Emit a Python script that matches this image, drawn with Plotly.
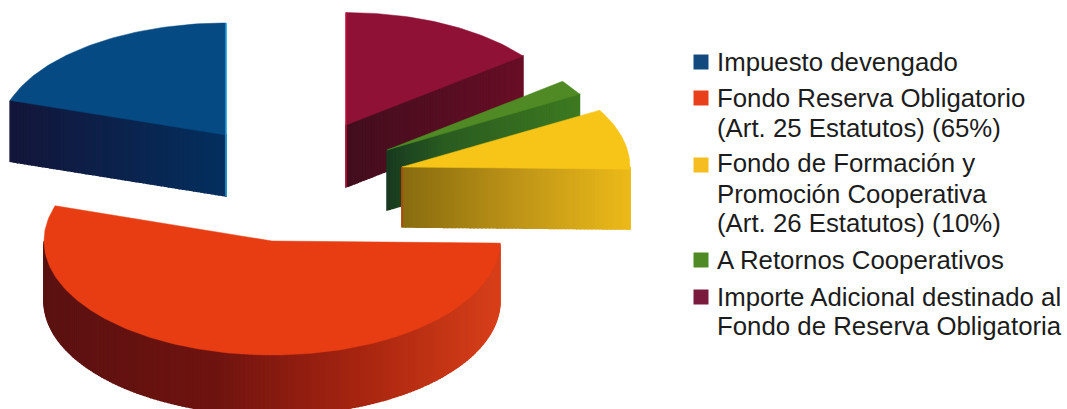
import plotly.graph_objects as go
import numpy as np

legend_lines = [["Impuesto devengado"],
                ["Fondo Reserva Obligatorio", "(Art. 25 Estatutos) (65%)"],
                ["Fondo de Formación y", "Promoción Cooperativa", "(Art. 26 Estatutos) (10%)"],
                ["A Retornos Cooperativos"],
                ["Importe Adicional destinado al", "Fondo de Reserva Obligatoria"]]
shares = [20.0, 54.7, 8.6, 2.2, 14.5]
top_colors = ["#054a82", "#e83c12", "#f6c518", "#4f8a25", "#8f1236"]
swatch_colors = ["#124a7e", "#e8401a", "#f5bd20", "#4f8a25", "#7a1a3c"]

W, H = 1067, 409
# pixel layout of each exploded slice: centre x, centre y, radius x, radius y, thickness
geom = [(226, 135, 227, 112, 61),
        (272, 241, 228, 114, 60),
        (402, 167, 228, 114, 60),
        (387, 150, 222, 112, 60),
        (346, 125, 224, 112.5, 62)]
# side wall shading: (x position 0..1 across the slice, colour)
wall_stops = [[(0, (20, 22, 58)), (1, (4, 48, 95))],
              [(0, (90, 18, 18)), (0.38, (112, 20, 16)), (0.7, (168, 38, 16)), (1, (216, 64, 26))],
              [(0, (135, 108, 16)), (0.5, (190, 148, 24)), (1, (236, 186, 24))],
              [(0, (24, 58, 32)), (0.3, (42, 92, 32)), (1, (62, 122, 32))],
              [(0, (66, 14, 30)), (1, (104, 14, 38))]]
rims = {0: ("#19a5e6", "full"), 2: ("#b8400f", "wall"), 4: ("#c5123c", "full")}
draw_order = [0, 4, 3, 2, 1]
# legend layout in pixels
line_y = [[62], [98, 128], [163, 194, 223], [260], [297, 326]]
swatch_y = [62, 98, 165, 260, 297]
swatch_x, text_x = 701, 717


def shade(stops, f):
    xs = [s[0] for s in stops]
    return "rgb(%d,%d,%d)" % tuple(np.interp(f, xs, [s[1][i] for s in stops]) for i in range(3))


def outline(t0, t1, g):
    cx, cy, rx, ry, _ = g
    ts = np.radians(np.linspace(t0, t1, max(8, int(abs(t1 - t0)))))
    ax, ay = cx + rx * np.sin(ts), cy - ry * np.cos(ts)
    k = np.linspace(0, 1, 61)
    x = np.r_[cx + (ax[0] - cx) * k, ax[1:], ax[-1] + (cx - ax[-1]) * k[1:]]
    y = np.r_[cy + (ay[0] - cy) * k, ay[1:], ay[-1] + (cy - ay[-1]) * k[1:]]
    return x, y


fig = go.Figure()
edges = -np.r_[0, np.cumsum(shares)] / sum(shares) * 360
for i in draw_order:
    g = geom[i]
    x, y = outline(edges[i], edges[i + 1], g)
    d = g[4]
    for j in range(len(x) - 1):
        if x[j + 1] - x[j] > 0:  # outward normal looks toward the viewer
            f = (0.5 * (x[j] + x[j + 1]) - x.min()) / (x.max() - x.min())
            c = shade(wall_stops[i], f)
            fig.add_trace(go.Scatter(
                x=[x[j], x[j + 1], x[j + 1], x[j], x[j]],
                y=[y[j], y[j + 1], y[j + 1] + d, y[j] + d, y[j]],
                mode="lines", fill="toself", fillcolor=c,
                line=dict(color=c, width=1.5), hoverinfo="skip", showlegend=False))
    fig.add_trace(go.Scatter(x=x, y=y, mode="lines", fill="toself", fillcolor=top_colors[i],
                             line=dict(color=top_colors[i], width=0.5),
                             hoverinfo="skip", showlegend=False))
    if i in rims:
        col, kind = rims[i]
        y0 = g[1] - g[3] if kind == "full" else g[1]
        fig.add_trace(go.Scatter(x=[g[0], g[0]], y=[y0, g[1] + d], mode="lines",
                                 line=dict(color=col, width=1.5),
                                 hoverinfo="skip", showlegend=False))

fig.add_trace(go.Scatter(x=[swatch_x] * len(swatch_y), y=swatch_y, mode="markers",
                         marker=dict(symbol="square", size=15, color=swatch_colors,
                                     line=dict(width=0)),
                         hoverinfo="skip", showlegend=False))
for lines, ys in zip(legend_lines, line_y):
    for text, yy in zip(lines, ys):
        fig.add_annotation(x=text_x, y=yy, text=text, showarrow=False, xanchor="left",
                           yanchor="middle", xshift=-2,
                           font=dict(family="Liberation Sans", size=25.8, color="#1c1c1c"))

fig.update_layout(
    width=W, height=H, margin=dict(l=0, r=0, t=0, b=0),
    paper_bgcolor="white", plot_bgcolor="white", showlegend=False,
    xaxis=dict(range=[0, W], visible=False, fixedrange=True),
    yaxis=dict(range=[H, 0], visible=False, fixedrange=True),
)
fig.write_html("out.html", config=dict(displayModeBar=False),
               post_script="document.body.style.margin='0';")
